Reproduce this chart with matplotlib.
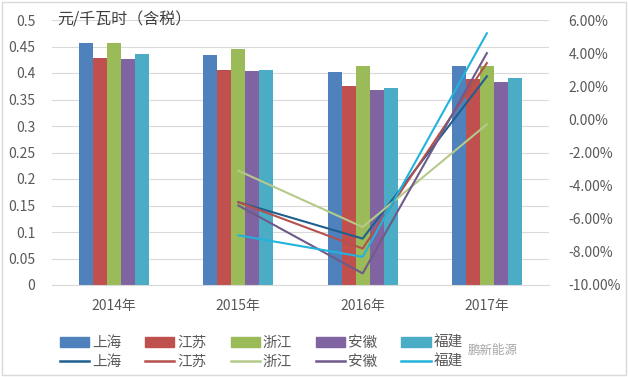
import matplotlib
matplotlib.use("Agg")
import matplotlib.pyplot as plt
from matplotlib.patches import Rectangle, Patch
from matplotlib.lines import Line2D
import numpy as np

plt.rcParams['font.family'] = ['Noto Sans CJK SC', 'DejaVu Sans']

# 数据
years = ['2014年', '2015年', '2016年', '2017年']
provinces = ['上海', '江苏', '浙江', '安徽', '福建']
price = {
    '上海': [0.457, 0.434, 0.402, 0.413],
    '江苏': [0.428, 0.406, 0.375, 0.389],
    '浙江': [0.457, 0.445, 0.413, 0.413],
    '安徽': [0.426, 0.404, 0.368, 0.383],
    '福建': [0.436, 0.406, 0.372, 0.391],
}
# 同比变化 (%), 2015-2017
change_years = [1, 2, 3]
change = {
    '上海': [-5.0, -7.2, 2.6],
    '江苏': [-5.0, -7.8, 3.4],
    '浙江': [-3.1, -6.5, -0.3],
    '安徽': [-5.2, -9.3, 4.0],
    '福建': [-7.0, -8.3, 5.2],
}
left_ticks = [0, 0.05, 0.1, 0.15, 0.2, 0.25, 0.3, 0.35, 0.4, 0.45, 0.5]
left_labels = ['0', '0.05', '0.1', '0.15', '0.2', '0.25', '0.3', '0.35', '0.4', '0.45', '0.5']

bar_colors = ['#4F81BD', '#C0504D', '#9BBB59', '#8064A2', '#4BACC6']
line_colors = ['#1F5F8F', '#B5504C', '#B4C98A', '#6F5A89', '#21B3DB']
txt = '#595959'

fig = plt.figure(figsize=(6.28, 3.77), dpi=100)
ax = fig.add_axes([52/628, 1-285/377, (549-52)/628, 265/377])

x = np.arange(len(years))
w = 0.113
for j, p in enumerate(provinces):
    ax.bar(x + (j-2)*w, price[p], width=w, color=bar_colors[j], zorder=2)

ax.set_xlim(-0.5, 3.5)
ax.set_ylim(0, 0.5)
ax.set_yticks(left_ticks)
ax.set_yticklabels(left_labels)
ax.set_xticks(x)
ax.set_xticklabels(years)
ax.yaxis.grid(True, color='#D9D9D9', lw=0.8, zorder=0)
ax.set_axisbelow(True)
for s in ['top', 'right', 'left']:
    ax.spines[s].set_visible(False)
ax.spines['bottom'].set_color('#D9D9D9')
ax.tick_params(axis='both', length=0, colors=txt, labelsize=10)
ax.tick_params(axis='y', pad=12)
ax.tick_params(axis='x', pad=10)

ax2 = ax.twinx()
for j, p in enumerate(provinces):
    ax2.plot(change_years, change[p], color=line_colors[j], lw=1.5)
ax2.set_ylim(-10, 6)
ax2.set_yticks(np.arange(-10, 7, 2))
ax2.set_yticklabels(['%.2f%%' % v for v in np.arange(-10, 7, 2)])
for s in ax2.spines.values():
    s.set_visible(False)
ax2.tick_params(axis='y', length=0, colors=txt, labelsize=10, pad=14)

fig.text(57/628, 1-20/377, '元/千瓦时（含税）', fontsize=11.5, color='#404040', va='center')

handles = []
labels = []
for j, p in enumerate(provinces):
    handles.append(Patch(color=bar_colors[j]))
    labels.append(p)
    handles.append(Line2D([0], [0], color=line_colors[j], lw=1.8))
    labels.append(p)
leg = fig.legend(handles, labels, ncol=5, loc='center', bbox_to_anchor=(0.416, 1-352.5/377),
                 frameon=False, fontsize=10.5, handlelength=2.0, columnspacing=1.65,
                 handletextpad=0.2, labelspacing=0.35, borderpad=0)
for t in leg.get_texts():
    t.set_color(txt)

fig.text(468/628, 1-350/377, '鹏新能源', fontsize=9, color='#808080', va='center', alpha=0.7)

fig.patches.append(Rectangle((0.003, 0.004), 0.994, 0.99, transform=fig.transFigure,
                             fill=False, edgecolor='#D9D9D9', lw=1))

fig.savefig('out.png', dpi=100)
